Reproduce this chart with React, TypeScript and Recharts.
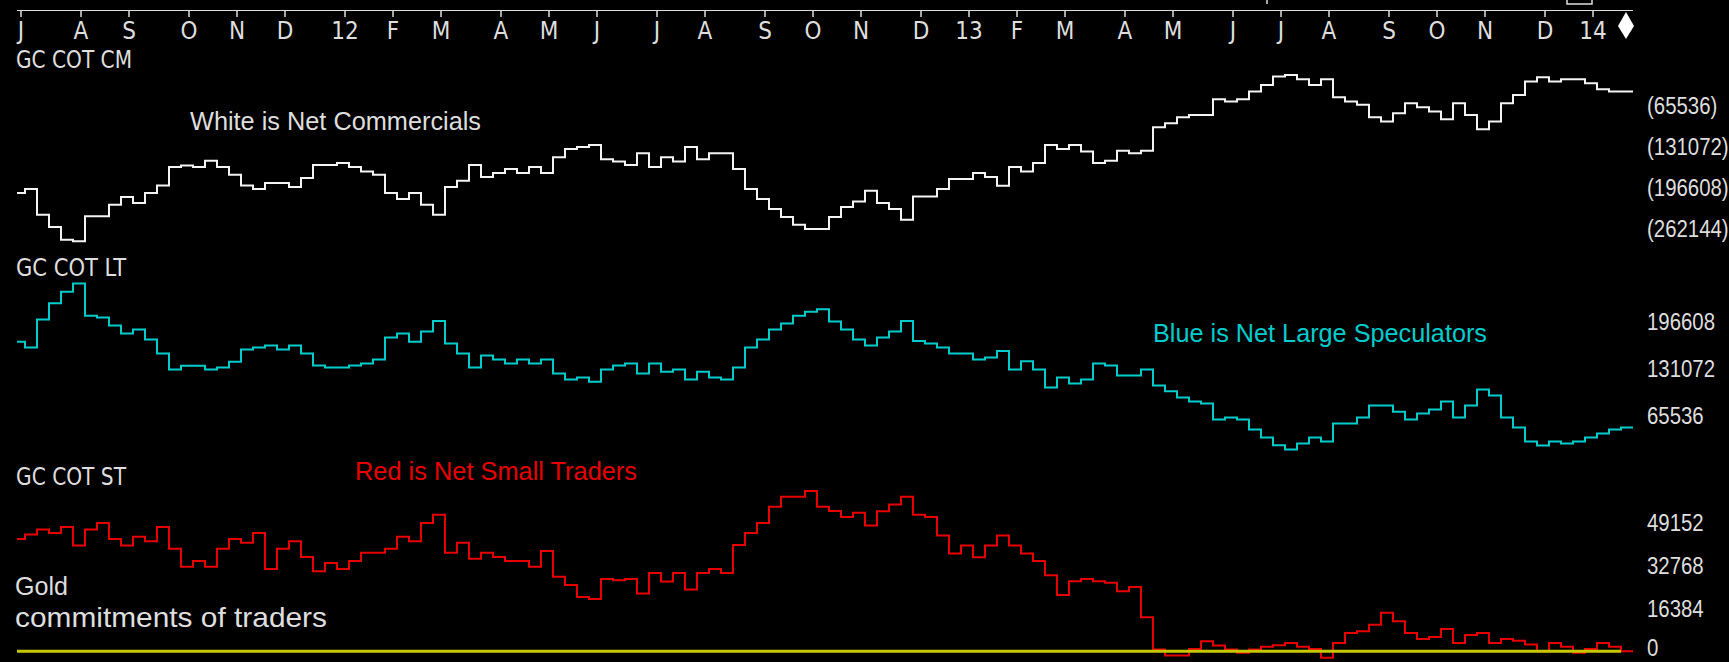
import React from 'react';
import { LineChart, Line, XAxis, YAxis, ReferenceLine } from 'recharts';

// weekly COT readings, first week = Friday 1 Jul 2011
const FIRST_WEEK = Date.UTC(2011, 6, 1);
const MONTH_LABELS = ['J', 'A', 'S', 'O', 'N', 'D', '12', 'F', 'M', 'A', 'M', 'J', 'J', 'A', 'S', 'O', 'N', 'D', '13', 'F', 'M', 'A', 'M', 'J', 'J', 'A', 'S', 'O', 'N', 'D', '14'];

// net commercials (white)
const commercials = [
  -206400, -200000, -240900, -260600, -280800, -283400, -243600, -243600, -225000, -212800,
  -222300, -206400, -194200, -164900, -162300, -164900, -154800, -164900, -177100, -194200,
  -200000, -190400, -190400, -196800, -182500, -161700, -161700, -158500, -164900, -171800,
  -177100, -206400, -215900, -206400, -225000, -240900, -196800, -186700, -161700, -180900,
  -174500, -168100, -174500, -164900, -174500, -149000, -136200, -133000, -129800, -152200,
  -155900, -161700, -142600, -164900, -149000, -155900, -133000, -152200, -142600, -142600,
  -168100, -200000, -215900, -231900, -244600, -256900, -263800, -263800, -244600, -228700,
  -219700, -202700, -222300, -231900, -248900, -211700, -211700, -200000, -184100, -184100,
  -174500, -180900, -194700, -164900, -171800, -158500, -129800, -136200, -129800, -139900,
  -158500, -154800, -138900, -142600, -138900, -101100, -94800, -85200, -81500, -81500,
  -56500, -60200, -56500, -44300, -33600, -20400, -17700, -24600, -33600, -24600,
  -53300, -60200, -65500, -85200, -92100, -78800, -62900, -69300, -76200, -88400,
  -62900, -81500, -104300, -92100, -62900, -49600, -28300, -21400, -28300, -24600,
  -24600, -31000, -40600, -44300, -44300,
];

// net large speculators (cyan)
const largeSpecs = [
  168600, 160600, 199900, 222400, 238800, 250400, 205100, 202700, 191500, 180300,
  185900, 171900, 152200, 129800, 134900, 134900, 129800, 132600, 140500, 157800,
  160600, 163400, 157800, 163400, 152200, 135400, 132600, 132600, 135400, 138200,
  143800, 174700, 180300, 168600, 183100, 197600, 166200, 152200, 132600, 149400,
  143800, 138200, 143800, 138200, 143800, 124100, 115700, 118500, 112400, 129800,
  135400, 138200, 124100, 138200, 126500, 129800, 115700, 126500, 118500, 115700,
  132600, 160600, 171900, 185900, 194300, 205100, 210700, 214000, 197100, 185900,
  171900, 163400, 174700, 183100, 197600, 169500, 166200, 160600, 152200, 152200,
  143800, 146600, 155500, 129800, 141400, 129800, 104500, 118500, 110100, 115700,
  138200, 135400, 121300, 121300, 129800, 107300, 99300, 90500, 84800, 82000,
  59600, 62400, 59600, 45600, 34300, 23600, 17500, 25900, 34300, 28700,
  54000, 54000, 62400, 79200, 79200, 70300, 59600, 68000, 73600, 84800,
  62400, 79200, 101700, 93300, 62400, 48400, 28700, 23100, 28700, 25900,
  28700, 34300, 39900, 45600, 48400,
];

// net small traders (red)
const smallTraders = [
  43000, 44700, 46600, 45300, 47600, 40500, 46600, 49100, 43000, 40500,
  43800, 42100, 47600, 39200, 32300, 34500, 32300, 39200, 43000, 41500,
  45300, 31500, 39200, 42100, 36100, 30600, 33800, 31500, 34500, 37700,
  37700, 39200, 43800, 42100, 49100, 52200, 37700, 41500, 35400, 37700,
  36100, 34500, 34500, 32300, 38400, 28500, 25400, 20800, 20000, 27700,
  27200, 27700, 22100, 30000, 26700, 30000, 23600, 30000, 31500, 30000,
  40700, 45300, 49100, 55300, 59100, 59100, 61300, 55300, 53700, 51400,
  53000, 48100, 53600, 56200, 59100, 52200, 51400, 44300, 37400, 40500,
  36000, 40500, 44300, 40500, 37400, 34500, 29100, 21500, 26800, 27700,
  26800, 26200, 23000, 24600, 13000, 700, -1600, -1600, 900, 3800,
  2200, 700, -600, 700, 1700, 2300, 3200, 1700, 900, -2500,
  3200, 7000, 7700, 10200, 14700, 11500, 7000, 4700, 5500, 8500,
  3200, 6200, 7000, 3200, 4700, 4000, 2600, 0, 3200, 1700,
  -600, 900, 3200, 1700, 0,
];

const CM_TICKS = [-65536, -131072, -196608, -262144];
const LT_TICKS = [196608, 131072, 65536];
const ST_TICKS = [49152, 32768, 16384, 0];

const W = 1729;
const H = 662;
const WEEK_MS = 7 * 24 * 3600 * 1000;
const n = commercials.length;

const weeks = commercials.map((_, i) => new Date(FIRST_WEEK + i * WEEK_MS));
const rows = weeks.map((d, i) => ({
  x: i,
  date: d.toISOString().slice(0, 10),
  cm: commercials[i],
  lt: largeSpecs[i],
  st: smallTraders[i],
}));
// close the last weekly step
rows.push({ ...rows[n - 1], x: n });

// first week of every month -> tick, drawn 2/3 into that week's step
const monthStarts = weeks
  .map((d, i) => (i === 0 || d.getUTCMonth() !== weeks[i - 1].getUTCMonth() ? i : -1))
  .filter((i) => i >= 0);
const monthTicks = monthStarts.map((i) => i + 2 / 3);
const labelFor = (v: number) => MONTH_LABELS[monthTicks.indexOf(v)] ?? '';

const X_DOMAIN: [number, number] = [1 / 3, n];
const MARGIN = { top: 0, right: 0, bottom: 0, left: 17 };

const TEXT = '#dedede';
const WHITE = '#f4f4f4';
const CYAN = '#00cccc';
const RED = '#e80000';
const YELLOW = '#c8c800';
const NARROW = "'Liberation Sans Narrow', 'Arial Narrow', 'DejaVu Sans Condensed', sans-serif";
const SANS = "'Liberation Sans', Arial, sans-serif";

// right-hand scale labels, squeezed horizontally like the narrow bitmap font
const ValueTick = (props: any) => {
  const { x, y, payload, fmt, maxY } = props;
  const label = fmt ? fmt(payload.value) : String(payload.value);
  const ty = maxY != null ? Math.min(y, maxY) : y;
  return (
    <text
      transform={`translate(${x} ${ty}) scale(0.85 1)`}
      dy="0.36em"
      fill={TEXT}
      fontSize={24}
      fontFamily={SANS}
    >
      {label}
    </text>
  );
};

const yAxisProps = {
  orientation: 'right' as const,
  width: 96,
  allowDataOverflow: true,
  interval: 0 as const,
  axisLine: false,
  tickLine: false,
  tickSize: 0,
  tickMargin: 14,
};

const negFmt = (v: number) => `(${-v})`;

export default function App() {
  return (
    <div style={{ position: 'absolute', left: 0, top: 0, width: W, height: H, background: '#000', overflow: 'hidden' }}>
      <div style={{ position: 'absolute', left: 0, top: 10 }}>
        <LineChart width={W} height={259} data={rows} margin={MARGIN}>
          <XAxis
            type="number"
            dataKey="x"
            domain={X_DOMAIN}
            allowDataOverflow
            orientation="top"
            mirror
            height={30}
            ticks={monthTicks}
            interval={0}
            tickFormatter={labelFor}
            axisLine={{ stroke: TEXT, strokeWidth: 2 }}
            tickLine={{ stroke: TEXT, strokeWidth: 1.5 }}
            tickSize={7}
            tickMargin={5}
            tick={{ fill: TEXT, fontSize: 24, fontFamily: NARROW }}
          />
          <YAxis {...yAxisProps} domain={[-327680, 86016]} ticks={CM_TICKS} tick={<ValueTick fmt={negFmt} />} />
          <Line type="stepAfter" dataKey="cm" stroke={WHITE} strokeWidth={2} dot={false} isAnimationActive={false} />
        </LineChart>
      </div>

      <div style={{ position: 'absolute', left: 0, top: 275 }}>
        <LineChart width={W} height={187} data={rows} margin={MARGIN}>
          <XAxis type="number" dataKey="x" domain={X_DOMAIN} allowDataOverflow hide />
          <YAxis {...yAxisProps} domain={[0, 262144]} ticks={LT_TICKS} tick={<ValueTick />} />
          <Line type="stepAfter" dataKey="lt" stroke={CYAN} strokeWidth={2} dot={false} isAnimationActive={false} />
        </LineChart>
      </div>

      <div style={{ position: 'absolute', left: 0, top: 480 }}>
        <LineChart width={W} height={182} data={rows} margin={MARGIN}>
          <XAxis type="number" dataKey="x" domain={X_DOMAIN} allowDataOverflow hide />
          <YAxis {...yAxisProps} domain={[-4096, 65536]} ticks={ST_TICKS} tick={<ValueTick maxY={167} />} />
          <Line type="stepAfter" dataKey="st" stroke={RED} strokeWidth={2} dot={false} isAnimationActive={false} />
          <ReferenceLine
            segment={[{ x: X_DOMAIN[0], y: 0 }, { x: n - 1, y: 0 }]}
            stroke={YELLOW}
            strokeWidth={3}
          />
        </LineChart>
      </div>

      <svg width={W} height={H} style={{ position: 'absolute', left: 0, top: 0, pointerEvents: 'none' }}>
        <g fill={TEXT} fontFamily={NARROW} fontSize={24}>
          <text x={16} y={68} textLength={116} lengthAdjust="spacingAndGlyphs">GC COT CM</text>
          <text x={16} y={276} textLength={110} lengthAdjust="spacingAndGlyphs">GC COT LT</text>
          <text x={16} y={485} textLength={110} lengthAdjust="spacingAndGlyphs">GC COT ST</text>
        </g>
        <g fontFamily={SANS} fontSize={25}>
          <text x={190} y={130} fill={TEXT} textLength={291} lengthAdjust="spacingAndGlyphs">White is Net Commercials</text>
          <text x={1153} y={342} fill={CYAN} textLength={334} lengthAdjust="spacingAndGlyphs">Blue is Net Large Speculators</text>
          <text x={355} y={480} fill={RED} textLength={282} lengthAdjust="spacingAndGlyphs">Red is Net Small Traders</text>
          <text x={15} y={595} fill={TEXT} textLength={53} lengthAdjust="spacingAndGlyphs">Gold</text>
          <text x={15} y={627} fill={TEXT} fontSize={28} textLength={312} lengthAdjust="spacingAndGlyphs">commitments of traders</text>
        </g>
        <polygon points="1626,12 1634,26 1626,39 1618,26" fill="#ffffff" />
        <g stroke={TEXT} strokeWidth={1.5} fill="none">
          <line x1={1267} y1={0} x2={1267} y2={4} />
          <polyline points="1567,0 1567,4 1592,4 1592,0" />
        </g>
      </svg>
    </div>
  );
}
